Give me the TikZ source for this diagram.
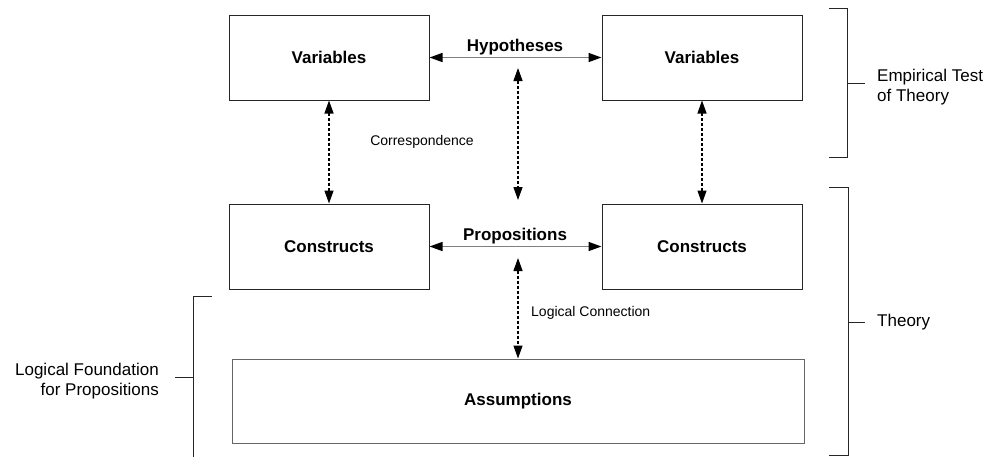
\documentclass[tikz,border=0pt]{standalone}
\usepackage{fontspec}
\setmainfont{Liberation Sans}
\usetikzlibrary{arrows.meta}
\begin{document}
\begin{tikzpicture}[x=1pt,y=-1pt,
  box/.style={draw=black!85, line width=1pt, minimum width=200pt, minimum height=85pt, inner sep=0pt,
    font=\fontsize{17}{20}\selectfont\bfseries},
  biglabel/.style={font=\fontsize{17}{20}\selectfont\bfseries, inner sep=0pt},
  smalllabel/.style={font=\fontsize{14}{17}\selectfont, inner sep=0pt},
  sidelabel/.style={font=\fontsize{17}{20}\selectfont, inner sep=0pt},
  solidarrow/.style={draw=black!50, line width=1.5pt, {Triangle[length=13pt,width=9pt,black]}-{Triangle[length=13pt,width=9pt,black]}, shorten <=0pt, shorten >=0pt},
  dasharrow/.style={draw=black, line width=1.3pt, dash pattern=on 3pt off 2pt, {Triangle[length=13pt,width=9pt]}-{Triangle[length=13pt,width=9pt]}},
  bracket/.style={draw=black!85, line width=1pt}
]
\useasboundingbox (0,0) rectangle (993,456);

% boxes
\node[box] (varL) at (329,57.5) {Variables};
\node[box] (varR) at (702,57.5) {Variables};
\node[box] (conL) at (329,246.5) {Constructs};
\node[box] (conR) at (702,246.5) {Constructs};
\node[box, draw=black!60, minimum width=572pt, minimum height=84pt] (ass) at (518,401) {Assumptions};

% labels
\node[biglabel] (hyp) at (515,47) {Hypotheses};
\node[biglabel] (prop) at (515,236) {Propositions};
\node[smalllabel] (corr) at (422,142) {Correspondence};
\node[smalllabel, anchor=west] (logc) at (531,313) {Logical Connection};

% horizontal arrows
\draw[solidarrow] (varL.east) -- (varR.west);
\draw[solidarrow] (conL.east) -- (conR.west);

% vertical dashed arrows
\draw[dasharrow] (varL.south) -- (conL.north);
\draw[dasharrow] (varR.south) -- (conR.north);
\coordinate (hypTop) at (518,68);
\coordinate (hypBot) at (518,200);
\draw[dasharrow] (hypTop) -- (hypBot);
\coordinate (propBot) at (518,258);
\draw[dasharrow] (propBot) -- (ass.north -| propBot);

% right bracket: empirical test
\coordinate (e1) at (829,8);
\coordinate (e2) at (847,8);
\coordinate (e3) at (847,157);
\coordinate (e4) at (829,157);
\coordinate (et1) at (847,83);
\coordinate (et2) at (865,83);
\draw[bracket] (e1) -- (e2) -- (e3) -- (e4);
\draw[bracket] (et1) -- (et2);
\node[sidelabel, anchor=west, align=left] (emp) at (877,87) {Empirical Test\\of Theory};

% right bracket: theory
\coordinate (t1) at (829,187);
\coordinate (t2) at (848,187);
\coordinate (t3) at (848,455);
\coordinate (t4) at (829,455);
\coordinate (tt1) at (848,322);
\coordinate (tt2) at (865,322);
\draw[bracket] (t1) -- (t2) -- (t3) -- (t4);
\draw[bracket] (tt1) -- (tt2);
\node[sidelabel, anchor=west] (theory) at (877,322) {Theory};

% left bracket
\coordinate (l1) at (212,296);
\coordinate (l2) at (193,296);
\coordinate (l3) at (193,460);
\coordinate (lt1) at (175,377);
\coordinate (lt2) at (193,377);
\draw[bracket] (l1) -- (l2) -- (l3);
\draw[bracket] (lt1) -- (lt2);
\node[sidelabel, anchor=east, align=right] (logf) at (159,381) {Logical Foundation\\for Propositions};
\end{tikzpicture}
\end{document}
